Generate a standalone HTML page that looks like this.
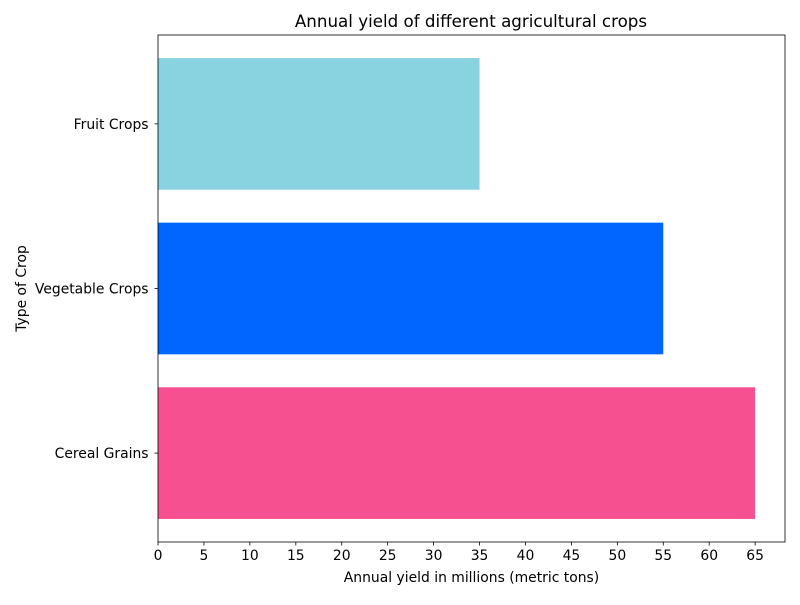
<!DOCTYPE html>
<html><head><meta charset="utf-8"><style>
body{margin:0;background:#fff}
svg text{font-family:"DejaVu Sans","Liberation Sans",sans-serif;fill:#000}
</style></head><body>
<svg id="c" width="800" height="600"></svg>
<script>
const categories=["Cereal Grains","Vegetable Crops","Fruit Crops"];
const values=[65,55,35];
const colors=["#f75091","#0066ff","#89d2df"];
const xTicks=[0,5,10,15,20,25,30,35,40,45,50,55,60,65];
const L=158,R=785,T=35,B=542;
const xMax=68.25,yMin=-0.54,yMax=2.54;
const xs=v=>L+v/xMax*(R-L);
const ys=v=>B-(v-yMin)/(yMax-yMin)*(B-T);
const svg=document.getElementById('c');
const NS="http://www.w3.org/2000/svg";
function mk(tag,attrs,txt){const e=document.createElementNS(NS,tag);for(const k in attrs)e.setAttribute(k,attrs[k]);if(txt!=null)e.textContent=txt;svg.appendChild(e);return e;}
categories.forEach((c,i)=>{
  const y0=ys(i+0.4),y1=ys(i-0.4);
  const b=mk('rect',{x:xs(0),y:y0,width:xs(values[i])-xs(0),height:y1-y0,fill:colors[i]});
  
  
  mk('line',{x1:L-3.5,x2:L,y1:ys(i),y2:ys(i),stroke:'#000','stroke-width':0.8});
  const t=mk('text',{x:L-9.5,y:ys(i)+5,'text-anchor':'end','font-size':13.9},c);
  
  
});
xTicks.forEach(v=>{
  mk('line',{x1:xs(v),x2:xs(v),y1:B,y2:B+3.5,stroke:'#000','stroke-width':0.8});
  const t=mk('text',{x:xs(v),y:B+18,'text-anchor':'middle','font-size':13.9},v);
  
  
});
const f=mk('rect',{x:L,y:T,width:R-L,height:B-T,fill:'none',stroke:'#000','stroke-width':0.8});


const ti=mk('text',{x:(L+R)/2-0.5,y:27,'text-anchor':'middle','font-size':16.7},'Annual yield of different agricultural crops');


const xl=mk('text',{x:(L+R)/2,y:582,'text-anchor':'middle','font-size':13.9},'Annual yield in millions (metric tons)');


const yl=mk('text',{x:26,y:(T+B)/2,'text-anchor':'middle','font-size':13.9,transform:`rotate(-90 26 ${(T+B)/2})`},'Type of Crop');


</script>
</body></html>
